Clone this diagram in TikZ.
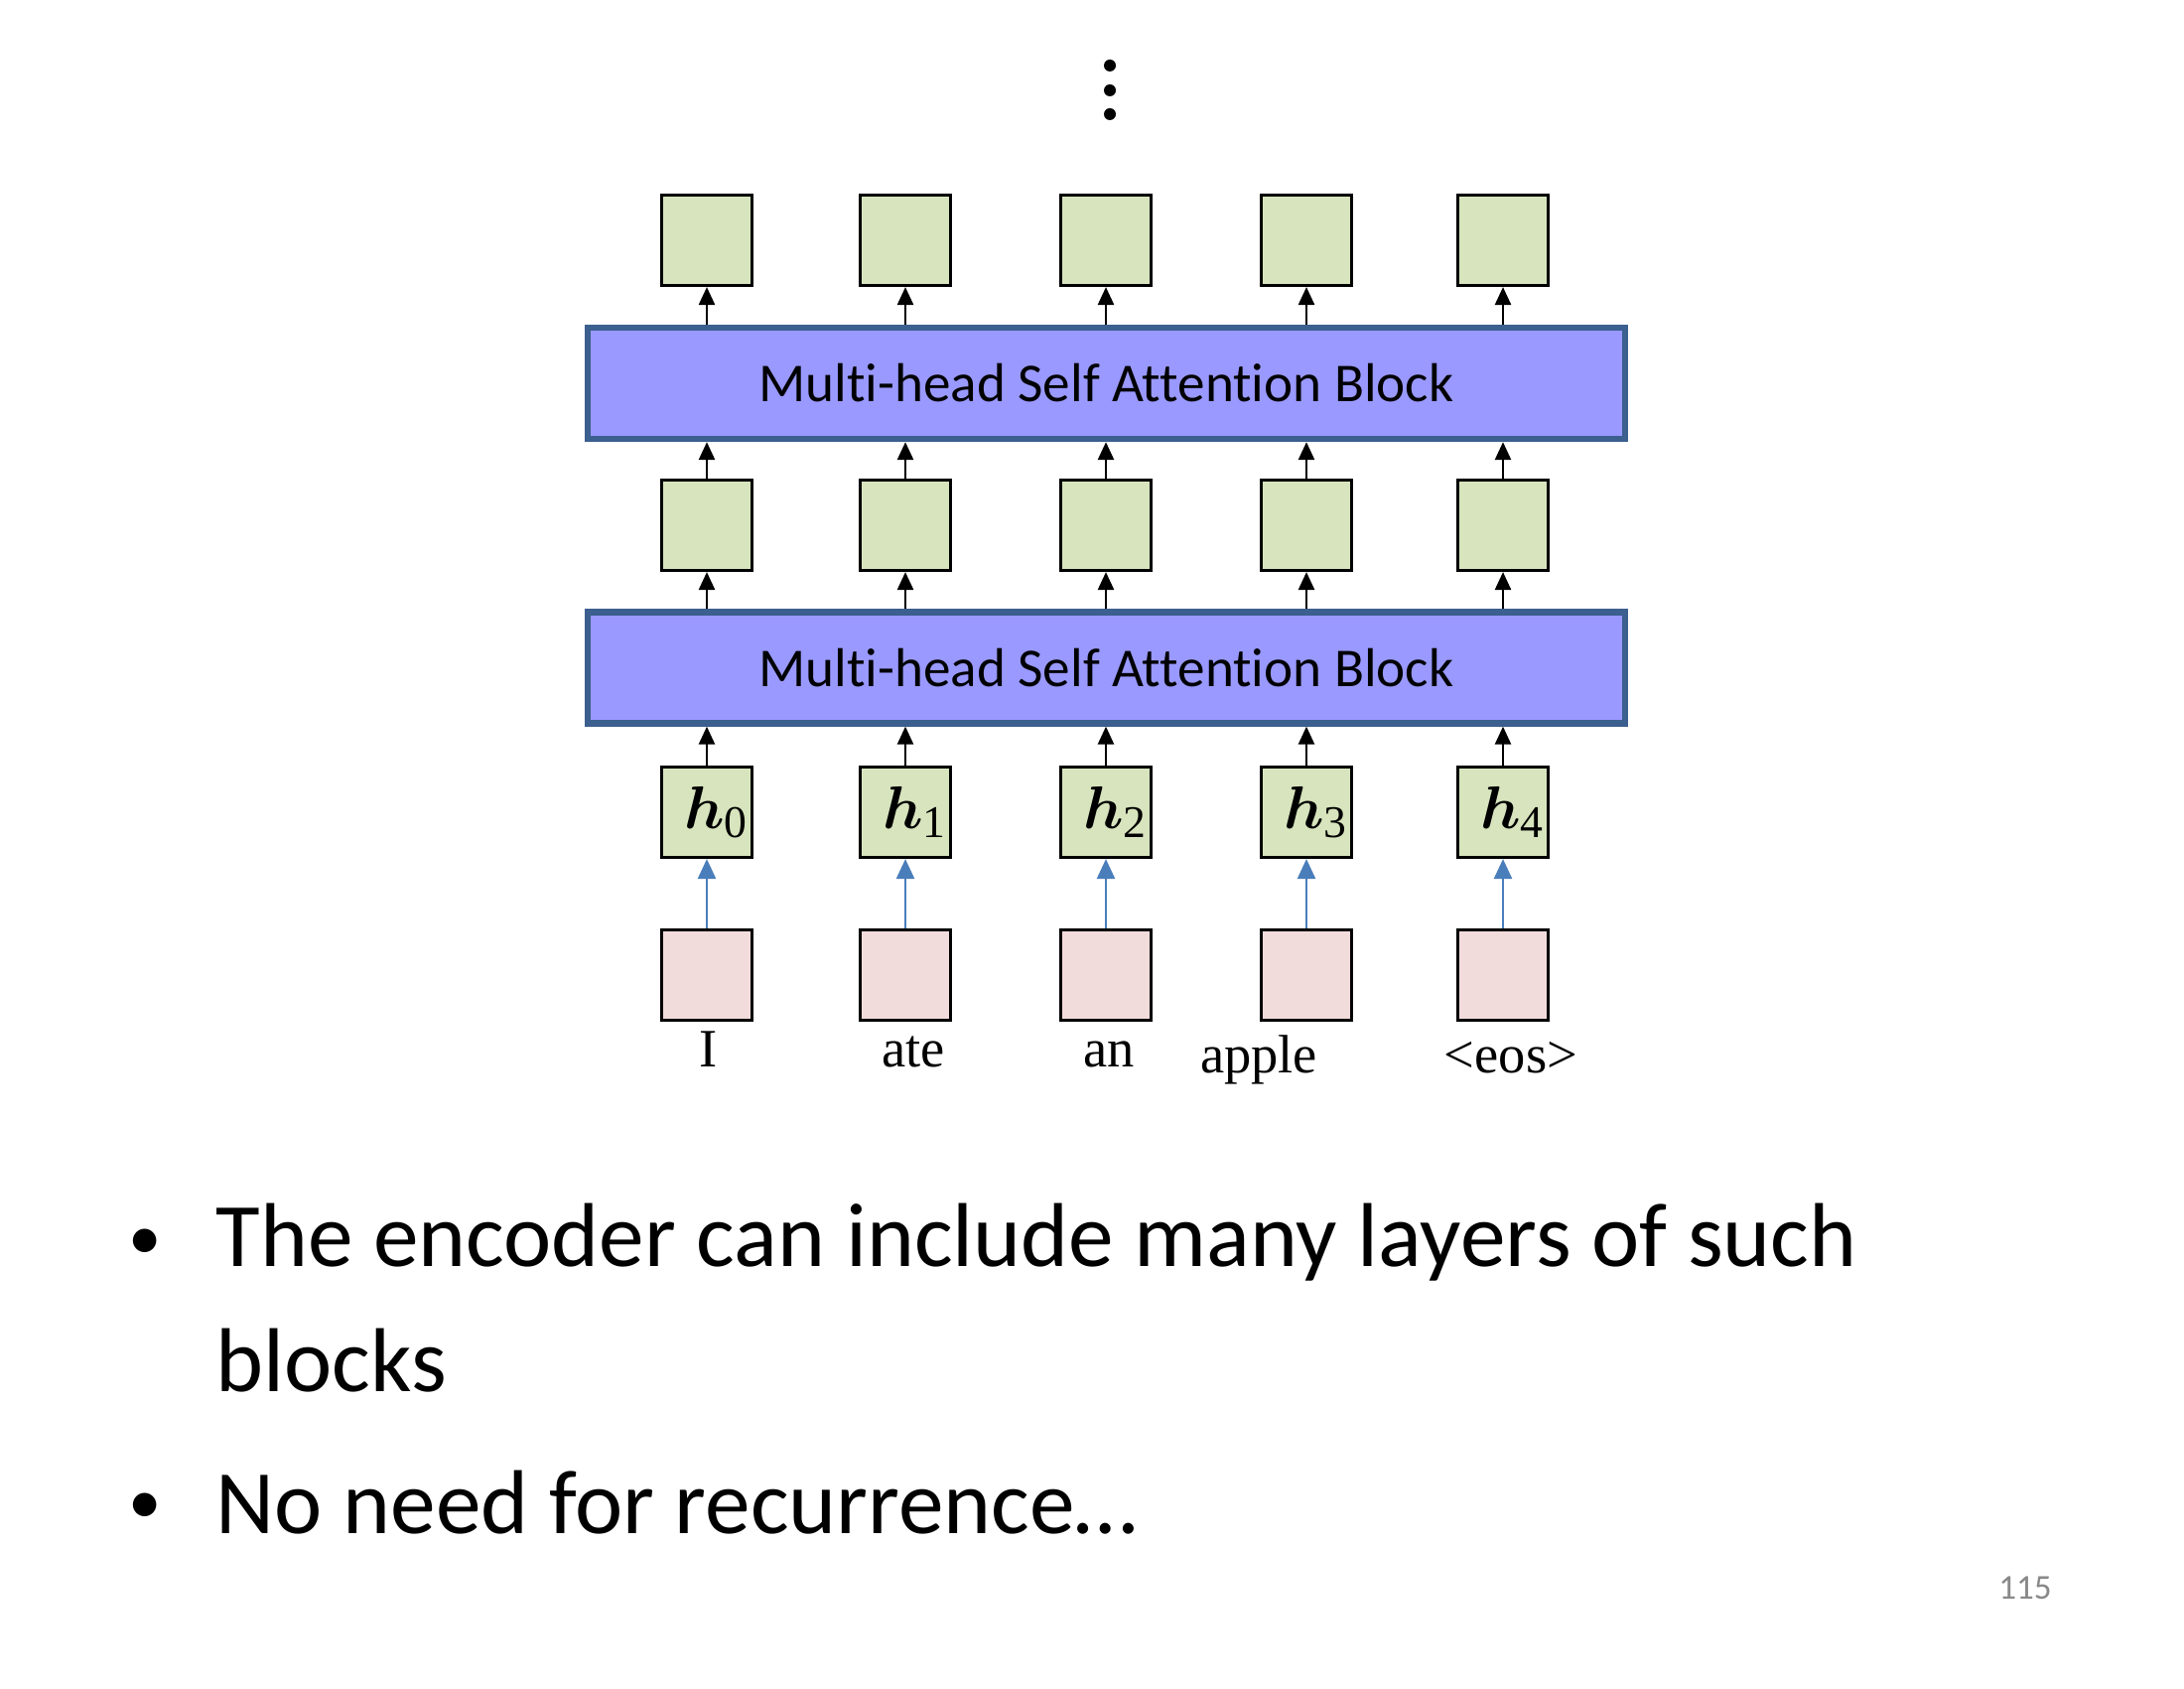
\documentclass[tikz,border=0pt]{standalone}
\usepackage{amsmath,amssymb}
\usepackage[no-math]{fontspec}
\setmainfont{Carlito}[Ligatures=NoCommon]
\newfontfamily\wordfont{Liberation Serif}
\usetikzlibrary{arrows.meta,positioning}
\definecolor{vecgreen}{HTML}{D7E4BD}
\definecolor{embpink}{HTML}{F2DCDB}
\definecolor{attnblue}{HTML}{9999FF}
\definecolor{attnedge}{HTML}{3B5F8F}
\definecolor{embarrow}{HTML}{4A7EBB}
\definecolor{pagegray}{HTML}{898989}
\newcommand{\hvec}[1]{\hspace{0.2cm}$\boldsymbol{h}_{\mbox{\wordfont\fontsize{13}{14}\selectfont #1}}$}

\begin{document}
\begin{tikzpicture}[
    vec/.style={rectangle, draw=black, fill=vecgreen, line width=0.9pt, minimum size=0.91cm, inner sep=0pt},
    emb/.style={rectangle, draw=black, fill=embpink, line width=0.9pt, minimum size=0.91cm, inner sep=0pt},
    attn/.style={rectangle, draw=attnedge, fill=attnblue, line width=1.8pt, minimum width=10.45cm, minimum height=1.12cm, font=\fontsize{15.7}{19}\selectfont},
    word/.style={anchor=base, inner sep=0pt, font=\wordfont\fontsize{15.5}{18}\selectfont},
    bullet/.style={anchor=base west, inner sep=0pt, font=\fontsize{26}{31}\selectfont},
    dotmark/.style={anchor=base, inner sep=0pt, font=\fontsize{19}{22}\selectfont},
    arrow/.style={-{Triangle[length=1.8mm, width=1.6mm]}, line width=0.7pt},
    embarr/.style={-{Triangle[length=2mm, width=1.8mm]}, line width=0.7pt, draw=embarrow, fill=embarrow}
  ]
    \fill[white] (0,0) rectangle (22,17);
    \useasboundingbox (0,0) rectangle (22,17);

    % the two attention layers
    \node[attn] (attn2) at (11.145,13.14) {Multi-head Self Attention Block};
    \node[attn] (attn1) at (11.145,10.275) {Multi-head Self Attention Block};

    % one column per token
    \foreach \i/\x in {0/7.12, 1/9.12, 2/11.14, 3/13.16, 4/15.14} {
      \node[vec] (out\i) at (\x,14.58) {};
      \node[vec] (mid\i) at (\x,11.71) {};
      \node[vec, font=\fontsize{18}{20}\selectfont] (h\i) at (\x,8.82) {\hvec{\i}};
      \node[emb] (emb\i) at (\x,7.18) {};

      \draw[embarr] (emb\i) -- (h\i);
      \draw[arrow] (h\i) -- (attn1.south -| h\i);
      \draw[arrow] (attn1.north -| mid\i) -- (mid\i);
      \draw[arrow] (mid\i) -- (attn2.south -| mid\i);
      \draw[arrow] (attn2.north -| out\i) -- (out\i);
    }

    \node[word] (w0) at (7.14,6.25) {I};
    \node[word] (w1) at (9.20,6.25) {ate};
    \node[word] (w2) at (11.17,6.25) {an};
    \node[word] (w3) at (12.68,6.19) {apple};
    \node[word] (w4) at (15.22,6.19) {\textless eos\textgreater};

    % more layers above
    \foreach \y in {16.34,16.09,15.85}
      \fill (11.18,\y) circle (0.06);

    \node[dotmark] (dot1) at (1.46,4.32) {•};
    \node[bullet] (line1) at (2.17,4.24) {The encoder can include many layers of such};
    \node[bullet] (line1b) at (2.17,2.99) {blocks};
    \node[dotmark] (dot2) at (1.46,1.66) {•};
    \node[bullet] (line2) at (2.17,1.56) {No need for recurrence…};

    \node[font=\fontsize{10}{12}\selectfont, text=pagegray] (page) at (20.40,1.01) {115};
  \end{tikzpicture}
\end{document}
